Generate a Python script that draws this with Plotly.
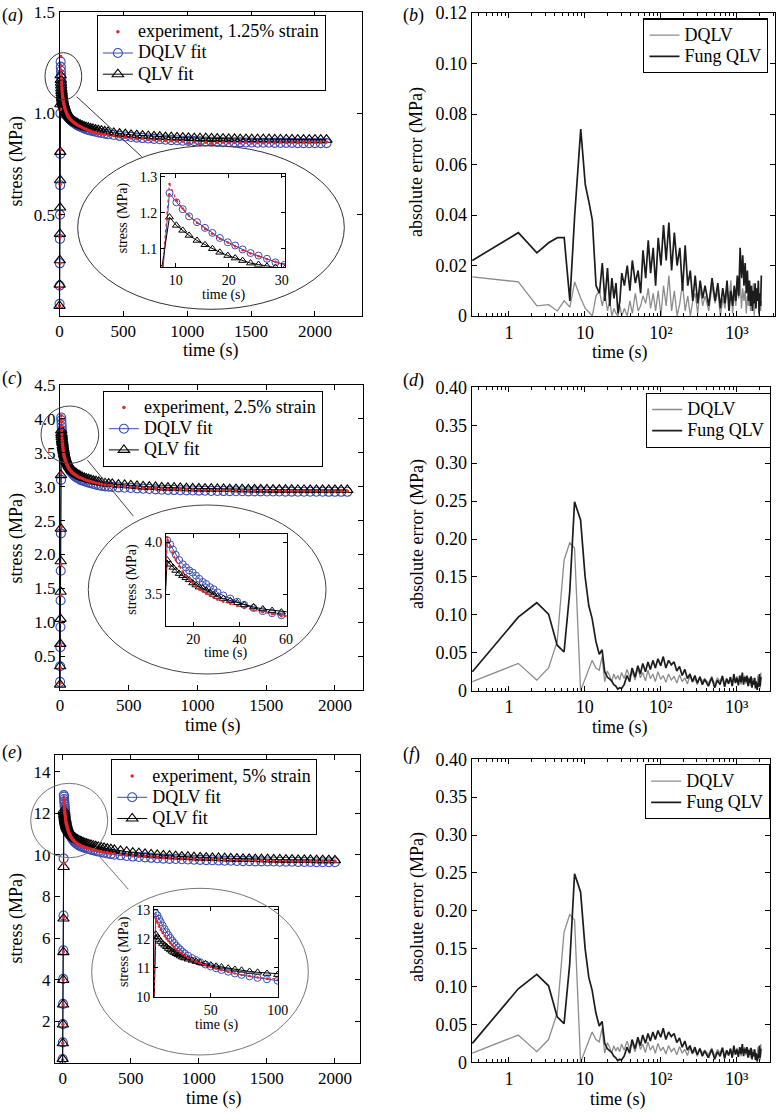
import plotly.graph_objects as go

FONT = "Liberation Serif"
W, H = 778, 1112
BLUE = "#3a4db5"
RED = "#e3262b"
GRAY = "#8c8c8c"
DARK = "#1c1c1c"

# ---------------- data ----------------
# sample times (s): ramp | 10-30 s | 30-130 s | 130-360 s | tail
T = [0.33, 1.33, 2.33, 3.33, 4.33, 5.33, 6.33, 7.33, 8.8,
     10.1, 11.3, 12.5, 14.0, 15.5, 16.9, 18.3, 19.8, 21.2, 22.6, 24.1, 25.6, 27.2, 28.8, 30.5,
     33, 36, 39, 42, 46, 50, 54, 58, 63, 68, 73, 79, 85, 92, 100, 108, 117, 127,
     138, 150, 163, 177, 192, 208, 225, 243, 262, 282, 304, 328, 354,
     380, 425, 470, 515, 560, 605, 650, 695, 740, 785, 830, 875, 920, 965, 1010, 1055,
     1100, 1145, 1190, 1235, 1280, 1325, 1370, 1415, 1460, 1505, 1550, 1595, 1640, 1685,
     1730, 1775, 1820, 1865, 1910, 1955, 2000, 2045, 2090]

# panel (a): 1.25% strain
A_EXP = [0.05, 0.14, 0.26, 0.39, 0.50, 0.65, 0.82, 1.02, 1.28,
         1.235, 1.212, 1.192, 1.172, 1.155, 1.141, 1.128, 1.117, 1.106, 1.096, 1.087, 1.079, 1.071, 1.064, 1.057,
         1.050, 1.041, 1.033, 1.026, 1.018, 1.011, 1.004, 0.998, 0.992, 0.986, 0.981, 0.976, 0.971, 0.966, 0.961, 0.957, 0.952, 0.948,
         0.943, 0.939, 0.935, 0.930, 0.925, 0.921, 0.917, 0.913, 0.908, 0.905, 0.902, 0.898, 0.895,
         0.893, 0.889, 0.884, 0.882, 0.878, 0.875, 0.877, 0.871, 0.870, 0.868, 0.866, 0.865, 0.863, 0.862, 0.852, 0.858,
         0.849, 0.857, 0.851, 0.856, 0.857, 0.855, 0.856, 0.855, 0.857, 0.854, 0.856, 0.855, 0.857, 0.855,
         0.858, 0.856, 0.857, 0.856, 0.858, 0.857, 0.859, 0.858, 0.859]
A_DQLV = [0.06, 0.15, 0.26, 0.38, 0.50, 0.645, 0.80, 1.00, 1.255,
          1.229, 1.210, 1.190, 1.174, 1.158, 1.144, 1.130, 1.118, 1.109, 1.098, 1.088, 1.081, 1.072, 1.062, 1.055,
          1.048, 1.040, 1.032, 1.025, 1.017, 1.010, 1.003, 0.997, 0.991, 0.985, 0.980, 0.975, 0.970, 0.965, 0.960, 0.955, 0.951, 0.946,
          0.942, 0.938, 0.934, 0.930, 0.926, 0.922, 0.918, 0.915, 0.912, 0.909, 0.906, 0.903, 0.900,
          0.897, 0.893, 0.889, 0.886, 0.883, 0.880, 0.878, 0.876, 0.874, 0.872, 0.870, 0.868, 0.867, 0.865, 0.864, 0.863,
          0.862, 0.861, 0.860, 0.859, 0.858, 0.858, 0.857, 0.857, 0.856, 0.856, 0.855, 0.855, 0.855, 0.854,
          0.854, 0.854, 0.854, 0.853, 0.853, 0.853, 0.853, 0.853, 0.853]
A_QLV = [0.05, 0.155, 0.275, 0.405, 0.535, 0.67, 0.81, 1.045, 1.188,
         1.165, 1.151, 1.137, 1.123, 1.111, 1.100, 1.090, 1.081, 1.074, 1.067, 1.060, 1.056, 1.051, 1.048, 1.044,
         1.040, 1.034, 1.028, 1.022, 1.016, 1.010, 1.005, 1.000, 0.995, 0.990, 0.986, 0.981, 0.977, 0.972, 0.967, 0.963, 0.959, 0.955,
         0.951, 0.947, 0.943, 0.939, 0.935, 0.932, 0.929, 0.926, 0.923, 0.920, 0.917, 0.914, 0.911,
         0.908, 0.904, 0.900, 0.897, 0.894, 0.892, 0.890, 0.888, 0.886, 0.885, 0.883, 0.882, 0.881, 0.880, 0.879, 0.878,
         0.877, 0.877, 0.876, 0.875, 0.875, 0.874, 0.874, 0.873, 0.873, 0.873, 0.872, 0.872, 0.872, 0.871,
         0.871, 0.871, 0.871, 0.870, 0.870, 0.870, 0.870, 0.870, 0.870]

# panel (c): 2.5% strain
C_EXP = [0.10, 0.33, 0.66, 1.00, 1.40, 1.85, 2.40, 3.20, 4.05,
         3.96, 3.89, 3.83, 3.77, 3.72, 3.68, 3.64, 3.61, 3.58, 3.55, 3.53, 3.51, 3.49, 3.47, 3.45,
         3.43, 3.41, 3.39, 3.37, 3.35, 3.33, 3.31, 3.29, 3.275, 3.26, 3.245, 3.23, 3.215, 3.20, 3.19, 3.18, 3.165, 3.155,
         3.14, 3.13, 3.12, 3.105, 3.095, 3.085, 3.075, 3.065, 3.055, 3.045, 3.035, 3.025, 3.02,
         3.012, 3.0, 2.998, 2.99, 2.985, 2.978, 2.975, 2.968, 2.965, 2.962, 2.958, 2.955, 2.953, 2.95, 2.948, 2.947,
         2.945, 2.944, 2.943, 2.942, 2.941, 2.94, 2.94, 2.939, 2.938, 2.938, 2.937, 2.937, 2.936, 2.936,
         2.936, 2.935, 2.935, 2.935, 2.934, 2.934, 2.934, 2.934, 2.934]
C_DQLV = [0.12, 0.35, 0.63, 0.93, 1.32, 1.76, 2.31, 3.10, 4.02,
          3.98, 3.93, 3.88, 3.83, 3.79, 3.76, 3.73, 3.71, 3.68, 3.65, 3.62, 3.60, 3.57, 3.55, 3.52,
          3.49, 3.46, 3.43, 3.40, 3.37, 3.34, 3.32, 3.30, 3.28, 3.26, 3.24, 3.22, 3.21, 3.19, 3.17, 3.16, 3.14, 3.13,
          3.12, 3.10, 3.09, 3.08, 3.07, 3.06, 3.05, 3.04, 3.03, 3.02, 3.01, 3.005, 3.00,
          2.995, 2.99, 2.985, 2.98, 2.975, 2.97, 2.965, 2.96, 2.955, 2.952, 2.95, 2.947, 2.945, 2.943, 2.941, 2.939,
          2.937, 2.936, 2.935, 2.934, 2.933, 2.932, 2.931, 2.93, 2.93, 2.929, 2.928, 2.928, 2.927, 2.927,
          2.926, 2.926, 2.925, 2.925, 2.925, 2.924, 2.924, 2.924, 2.924]
C_QLV = [0.08, 0.35, 0.68, 1.05, 1.45, 1.90, 2.38, 3.17, 3.83,
         3.79, 3.76, 3.73, 3.70, 3.68, 3.66, 3.64, 3.61, 3.59, 3.57, 3.56, 3.54, 3.52, 3.50, 3.48,
         3.46, 3.44, 3.42, 3.40, 3.38, 3.36, 3.345, 3.33, 3.31, 3.295, 3.28, 3.265, 3.25, 3.235, 3.22, 3.21, 3.195, 3.18,
         3.17, 3.155, 3.14, 3.13, 3.12, 3.11, 3.10, 3.09, 3.08, 3.07, 3.06, 3.05, 3.045,
         3.04, 3.03, 3.025, 3.02, 3.01, 3.005, 3.0, 2.995, 2.99, 2.987, 2.984, 2.981, 2.978, 2.976, 2.974, 2.972,
         2.97, 2.968, 2.966, 2.965, 2.963, 2.962, 2.961, 2.96, 2.959, 2.958, 2.957, 2.956, 2.955, 2.955,
         2.954, 2.954, 2.953, 2.953, 2.952, 2.952, 2.952, 2.951, 2.951]

# panel (e): 5% strain
E_EXP = [0.15, 0.95, 1.85, 2.80, 4.00, 5.35, 7.00, 9.60, 12.70,
         12.55, 12.42, 12.30, 12.19, 12.09, 12.00, 11.92, 11.84, 11.77, 11.70, 11.63, 11.57, 11.51, 11.46, 11.41,
         11.34, 11.27, 11.21, 11.15, 11.08, 11.02, 10.96, 10.91, 10.85, 10.80, 10.75, 10.71, 10.66, 10.62, 10.58, 10.54, 10.50, 10.47,
         10.43, 10.40, 10.37, 10.34, 10.31, 10.28, 10.25, 10.22, 10.19, 10.16, 10.13, 10.11, 10.08,
         10.05, 10.02, 9.99, 9.96, 9.94, 9.92, 9.90, 9.88, 9.86, 9.85, 9.84, 9.82, 9.81, 9.80, 9.79, 9.78,
         9.77, 9.76, 9.76, 9.75, 9.74, 9.74, 9.73, 9.73, 9.72, 9.72, 9.71, 9.71, 9.71, 9.70,
         9.70, 9.70, 9.69, 9.69, 9.69, 9.69, 9.69, 9.68, 9.68]
E_DQLV = [0.19, 0.99, 1.87, 2.84, 4.04, 5.41, 7.09, 9.83, 12.87,
          12.80, 12.68, 12.57, 12.45, 12.33, 12.22, 12.12, 12.02, 11.93, 11.85, 11.76, 11.69, 11.62, 11.55, 11.49,
          11.41, 11.33, 11.26, 11.19, 11.11, 11.04, 10.98, 10.92, 10.86, 10.80, 10.75, 10.70, 10.65, 10.60, 10.55, 10.51, 10.47, 10.43,
          10.40, 10.37, 10.34, 10.31, 10.28, 10.25, 10.22, 10.19, 10.16, 10.13, 10.10, 10.07, 10.04,
          10.01, 9.98, 9.95, 9.92, 9.90, 9.88, 9.86, 9.84, 9.82, 9.81, 9.80, 9.79, 9.78, 9.77, 9.76, 9.75,
          9.74, 9.73, 9.72, 9.72, 9.71, 9.70, 9.70, 9.69, 9.69, 9.68, 9.68, 9.67, 9.67, 9.67,
          9.66, 9.66, 9.66, 9.65, 9.65, 9.65, 9.65, 9.64, 9.64]
E_QLV = [0.19, 0.95, 1.85, 2.81, 3.99, 5.33, 6.94, 9.42, 12.15,
         12.05, 11.97, 11.90, 11.83, 11.77, 11.72, 11.66, 11.61, 11.56, 11.52, 11.48, 11.44, 11.40, 11.36, 11.33,
         11.29, 11.25, 11.21, 11.17, 11.13, 11.09, 11.05, 11.02, 10.98, 10.94, 10.91, 10.87, 10.84, 10.80, 10.76, 10.73, 10.70, 10.67,
         10.64, 10.60, 10.57, 10.54, 10.51, 10.48, 10.45, 10.42, 10.39, 10.36, 10.33, 10.30, 10.27,
         10.24, 10.19, 10.15, 10.11, 10.08, 10.05, 10.02, 10.00, 9.98, 9.96, 9.94, 9.92, 9.91, 9.89, 9.88, 9.87,
         9.86, 9.85, 9.84, 9.83, 9.82, 9.81, 9.81, 9.80, 9.79, 9.79, 9.78, 9.78, 9.77, 9.77,
         9.76, 9.76, 9.76, 9.75, 9.75, 9.75, 9.74, 9.74, 9.74]
E_NPTS = 92  # the 5% test ends at about 2000 s

# panel (b): absolute errors, 1.25% strain
B_DQLV = [0.0155, 0.0135, 0.004, 0.0045, 0.002, 0.006, 0.0035, 0.0135, 0.007,
          0.003, 0.0015, 0.0, 0.008, 0.010, 0.004, 0.009, 0.002, 0.006, 0.0, 0.003, 0.001, 0.0, 0.004, 0.0,
          0.003, 0.0, 0.006, 0.001, 0.009, 0.002, 0.004, 0.008, 0.005, 0.011, 0.003, 0.009, 0.002, 0.010, 0.0, 0.012, 0.004, 0.016,
          0.002, 0.010, 0.0, 0.005, 0.013, 0.002, 0.008, 0.0, 0.006, 0.009, 0.001, 0.011, 0.004,
          0.008, 0.002, 0.012, 0.005, 0.010, 0.0, 0.007, 0.003, 0.011, 0.006, 0.014, 0.001, 0.009, 0.004, 0.012, 0.007,
          0.015, 0.003, 0.011, 0.006, 0.010, 0.001, 0.008, 0.004, 0.012, 0.002, 0.009, 0.005, 0.013, 0.0,
          0.007, 0.003, 0.010, 0.006, 0.012, 0.0, 0.008, 0.002, 0.006]
B_FUNG = [0.022, 0.033, 0.025, 0.029, 0.031, 0.031, 0.006, 0.040, 0.074,
          0.052, 0.045, 0.038, 0.012, 0.009, 0.021, 0.006, 0.019, 0.004, 0.015, 0.007, 0.013, 0.001, 0.006, 0.017,
          0.012, 0.020, 0.010, 0.022, 0.013, 0.018, 0.009, 0.026, 0.015, 0.030, 0.017, 0.027, 0.012, 0.031, 0.020, 0.036, 0.022, 0.037,
          0.018, 0.033, 0.020, 0.027, 0.010, 0.028, 0.012, 0.018, 0.006, 0.016, 0.005, 0.014, 0.007,
          0.012, 0.004, 0.015, 0.006, 0.013, 0.003, 0.011, 0.005, 0.014, 0.002, 0.010, 0.004, 0.012, 0.006, 0.016, 0.008,
          0.027, 0.015, 0.024, 0.012, 0.021, 0.009, 0.018, 0.006, 0.014, 0.004, 0.012, 0.002, 0.010, 0.005,
          0.013, 0.003, 0.011, 0.006, 0.014, 0.001, 0.009, 0.004, 0.016]

# panel (d): absolute errors, 2.5% strain
D_DQLV = [0.012, 0.036, 0.014, 0.030, 0.065, 0.172, 0.195, 0.188, 0.0,
          0.015, 0.028, 0.040, 0.030, 0.027, 0.045, 0.012, 0.026, 0.020, 0.012, 0.022, 0.015, 0.020, 0.014, 0.024,
          0.016, 0.028, 0.018, 0.025, 0.014, 0.030, 0.017, 0.024, 0.013, 0.027, 0.016, 0.022, 0.012, 0.025, 0.015, 0.020, 0.011, 0.022,
          0.014, 0.019, 0.010, 0.021, 0.012, 0.017, 0.009, 0.020, 0.011, 0.016, 0.008, 0.019, 0.012,
          0.016, 0.010, 0.019, 0.008, 0.017, 0.012, 0.020, 0.009, 0.015, 0.011, 0.018, 0.007, 0.016, 0.012, 0.019, 0.010,
          0.017, 0.008, 0.015, 0.012, 0.020, 0.009, 0.016, 0.011, 0.018, 0.006, 0.014, 0.010, 0.017, 0.008,
          0.015, 0.004, 0.012, 0.009, 0.020, 0.006, 0.016, 0.003, 0.024]
D_FUNG = [0.025, 0.097, 0.116, 0.101, 0.060, 0.051, 0.130, 0.249, 0.225,
          0.150, 0.112, 0.095, 0.065, 0.048, 0.054, 0.025, 0.018, 0.016, 0.013, 0.008, 0.006, 0.002, 0.004, 0.003,
          0.008, 0.020, 0.012, 0.030, 0.018, 0.033, 0.022, 0.036, 0.025, 0.038, 0.028, 0.040, 0.030, 0.042, 0.033, 0.045, 0.030, 0.040,
          0.034, 0.038, 0.026, 0.032, 0.020, 0.028, 0.016, 0.022, 0.012, 0.020, 0.010, 0.018, 0.008,
          0.015, 0.006, 0.017, 0.004, 0.014, 0.008, 0.019, 0.005, 0.016, 0.009, 0.018, 0.006, 0.022, 0.010, 0.017, 0.007,
          0.020, 0.011, 0.024, 0.008, 0.018, 0.012, 0.020, 0.006, 0.016, 0.010, 0.019, 0.004, 0.013, 0.008,
          0.017, 0.003, 0.012, 0.001, 0.010, 0.005, 0.022, 0.006, 0.018]

# panel (f) shows the same error curves as panel (d) in the source figure
F_DQLV = D_DQLV
F_FUNG = D_FUNG

# tick labels
STRESS_X_TICKS = [0, 500, 1000, 1500, 2000]
LOG_TICKVALS = [1, 10, 100, 1000]
LOG_TICKTEXT = ["1", "10", "10²", "10³"]
ERR_B_TICKS = [0, 0.02, 0.04, 0.06, 0.08, 0.10, 0.12]
ERR_B_TEXT = ["0", "0.02", "0.04", "0.06", "0.08", "0.10", "0.12"]
ERR_D_TICKS = [0, 0.05, 0.10, 0.15, 0.20, 0.25, 0.30, 0.35, 0.40]
ERR_D_TEXT = ["0", "0.05", "0.10", "0.15", "0.20", "0.25", "0.30", "0.35", "0.40"]

# ---------------- layout helpers ----------------
def px(x):
    return x / W


def py(y):
    return 1 - y / H


def xdom(x0, x1):
    return [px(x0), px(x1)]


def ydom(top, bottom):
    return [py(bottom), py(top)]


def tick_font(size):
    return dict(family=FONT, size=size, color="black")


def base_axis(size=17, ticklen=5):
    return dict(showline=True, linecolor="black", linewidth=1, mirror="ticks",
                ticks="inside", ticklen=ticklen, tickwidth=1, tickcolor="black",
                showgrid=False, zeroline=False, tickfont=tick_font(size),
                automargin=False, fixedrange=True)


def leg_label(s):
    # legend row height follows the (small) legend font size; label drawn larger
    return f'<span style="font-size:18px">{s}</span>'


MINOR_LOG = [v * 10 ** e for e in (-1, 0, 1, 2, 3) for v in range(2, 10)]

fig = go.Figure()


def ax_name(n, letter):
    return letter if n == 1 else f"{letter}{n}"


def stress_panel(n, inset_n, exp, dq, ql, leg, exp_label, npts):
    x = T[:npts]
    xa, ya = ax_name(n, "x"), ax_name(n, "y")
    fig.add_trace(go.Scatter(x=x, y=dq[:npts], mode="lines+markers", name=leg_label("DQLV fit"),
                             line=dict(color=BLUE, width=1),
                             marker=dict(symbol="circle-open", size=9, color=BLUE, line=dict(width=1.1)),
                             xaxis=xa, yaxis=ya, legend=leg, legendrank=2, cliponaxis=False))
    fig.add_trace(go.Scatter(x=x, y=ql[:npts], mode="lines+markers", name=leg_label("QLV fit"),
                             line=dict(color="black", width=1),
                             marker=dict(symbol="triangle-up-open", size=10, color="black", line=dict(width=1.1)),
                             xaxis=xa, yaxis=ya, legend=leg, legendrank=3, cliponaxis=False))
    fig.add_trace(go.Scatter(x=x, y=exp[:npts], mode="markers", name=leg_label(exp_label),
                             marker=dict(symbol="circle", size=3.5, color=RED),
                             xaxis=xa, yaxis=ya, legend=leg, legendrank=1, cliponaxis=False))
    xi, yi = ax_name(inset_n, "x"), ax_name(inset_n, "y")
    fig.add_trace(go.Scatter(x=x, y=dq[:npts], mode="lines+markers", showlegend=False,
                             line=dict(color=BLUE, width=1),
                             marker=dict(symbol="circle-open", size=7, color=BLUE, line=dict(width=1)),
                             xaxis=xi, yaxis=yi))
    fig.add_trace(go.Scatter(x=x, y=ql[:npts], mode="lines+markers", showlegend=False,
                             line=dict(color="black", width=1),
                             marker=dict(symbol="triangle-up-open", size=7, color="black", line=dict(width=1)),
                             xaxis=xi, yaxis=yi))
    fig.add_trace(go.Scatter(x=x, y=exp[:npts], mode="lines+markers", showlegend=False,
                             line=dict(color=RED, width=1.2, dash="dot"),
                             marker=dict(symbol="circle", size=2.5, color=RED),
                             xaxis=xi, yaxis=yi))


def error_panel(n, dq, fung, leg):
    xa, ya = ax_name(n, "x"), ax_name(n, "y")
    fig.add_trace(go.Scatter(x=T, y=dq, mode="lines", name=leg_label("DQLV"),
                             line=dict(color=GRAY, width=1.3),
                             xaxis=xa, yaxis=ya, legend=leg, legendrank=1))
    fig.add_trace(go.Scatter(x=T, y=fung, mode="lines", name=leg_label("Fung QLV"),
                             line=dict(color=DARK, width=1.7),
                             xaxis=xa, yaxis=ya, legend=leg, legendrank=2))


stress_panel(1, 7, A_EXP, A_DQLV, A_QLV, "legend", "experiment, 1.25% strain", len(T))
stress_panel(3, 8, C_EXP, C_DQLV, C_QLV, "legend3", "experiment, 2.5% strain", len(T))
stress_panel(5, 9, E_EXP, E_DQLV, E_QLV, "legend5", "experiment, 5% strain", E_NPTS)
error_panel(2, B_DQLV, B_FUNG, "legend2")
error_panel(4, D_DQLV, D_FUNG, "legend4")
error_panel(6, F_DQLV, F_FUNG, "legend6")

layout = dict(width=W, height=H, margin=dict(l=0, r=0, t=0, b=0),
              paper_bgcolor="white", plot_bgcolor="white", template="none",
              font=dict(family=FONT, size=17, color="black"), showlegend=True)

# main stress panels
main_specs = {1: ((59.5, 362), (12, 316), [0, 2368], [0, 1.5], [0.5, 1.0, 1.5], ".1f"),
              3: ((60, 363), (385, 690), [0, 2204], [0, 4.5], [0.5, 1.0, 1.5, 2.0, 2.5, 3.0, 3.5, 4.0, 4.5], ".1f"),
              5: ((55, 360), (755, 1063), [-56, 2184], [0, 14.8], [2, 4, 6, 8, 10, 12, 14], "d")}
for n, (xd, yd, xr, yr, yt, fmt) in main_specs.items():
    xa = base_axis(17)
    xa.update(domain=xdom(*xd), range=xr, anchor=ax_name(n, "y"), tickmode="array", tickvals=STRESS_X_TICKS)
    ya = base_axis(17)
    ya.update(domain=ydom(*yd), range=yr, anchor=ax_name(n, "x"), tickmode="array", tickvals=yt, tickformat=fmt)
    layout["xaxis" if n == 1 else f"xaxis{n}"] = xa
    layout["yaxis" if n == 1 else f"yaxis{n}"] = ya

# error panels (log time)
err_specs = {2: ((471.7, 775), (13, 316), [-0.49, 3.5], [0, 0.12], ERR_B_TICKS, ERR_B_TEXT),
             4: ((471.7, 770), (387.3, 690.7), [-0.49, 3.44], [0, 0.40], ERR_D_TICKS, ERR_D_TEXT),
             6: ((471.7, 770), (759.3, 1062.3), [-0.49, 3.44], [0, 0.40], ERR_D_TICKS, ERR_D_TEXT)}
for n, (xd, yd, xr, yr, yt, ytt) in err_specs.items():
    xa = base_axis(18)
    xa.update(domain=xdom(*xd), type="log", range=xr, anchor=f"y{n}", tickmode="array",
              tickvals=LOG_TICKVALS, ticktext=LOG_TICKTEXT,
              minor=dict(tickmode="array", tickvals=MINOR_LOG, ticks="inside", ticklen=3,
                         tickcolor="black", showgrid=False))
    ya = base_axis(18)
    ya.update(domain=ydom(*yd), range=yr, anchor=f"x{n}", tickmode="array", tickvals=yt, ticktext=ytt)
    layout[f"xaxis{n}"] = xa
    layout[f"yaxis{n}"] = ya

# insets
inset_specs = {7: ((161, 285), (174.3, 266.7), [7.2, 30.6], [1.05, 1.307], [10, 20, 30], [1.1, 1.2, 1.3], ".1f"),
               8: ((166, 286.7), (534, 625.7), [8.3, 60.3], [3.2, 4.08], [20, 40, 60], [3.5, 4.0], ".1f"),
               9: ((154, 278.3), (906.7, 996.7), [7.5, 100.5], [10, 13.1], [50, 100], [10, 11, 12, 13], "d")}
for n, (xd, yd, xr, yr, xt, yt, fmt) in inset_specs.items():
    xa = base_axis(14, 4)
    xa.update(domain=xdom(*xd), range=xr, anchor=f"y{n}", tickmode="array", tickvals=xt)
    ya = base_axis(14, 4)
    ya.update(domain=ydom(*yd), range=yr, anchor=f"x{n}", tickmode="array", tickvals=yt, tickformat=fmt)
    layout[f"xaxis{n}"] = xa
    layout[f"yaxis{n}"] = ya


def legend_box(x, y, xanchor):
    return dict(x=px(x), y=py(y), xanchor=xanchor, yanchor="top", bgcolor="white",
                bordercolor="black", borderwidth=1.2, font=dict(family=FONT, size=14, color="black"),
                tracegroupgap=0, itemwidth=30, traceorder="normal")


layout["legend"] = legend_box(96.7, 15, "left")
layout["legend3"] = legend_box(102.7, 390.7, "left")
layout["legend5"] = legend_box(111, 759.3, "left")
layout["legend2"] = legend_box(643.3, 18.3, "left")
layout["legend4"] = legend_box(646, 392.7, "left")
layout["legend6"] = legend_box(645, 764.3, "left")

# annotations: panel letters and axis titles
ann = []


def text(x, y, s, size=18, angle=0, xanchor="center"):
    ann.append(dict(x=px(x), y=py(y), xref="paper", yref="paper", text=s, showarrow=False,
                    textangle=angle, xanchor=xanchor, yanchor="middle",
                    font=dict(family=FONT, size=size, color="black")))


for lbl, x, y in [("a", 0, 15), ("b", 401, 15), ("c", 0, 378), ("d", 401, 380), ("e", 0, 752), ("f", 401, 754)]:
    text(x, y, f"(<i>{lbl}</i>)", 18, 0, "left")

text(210.7, 350, "time (s)")
text(213, 725, "time (s)")
text(213.8, 1098, "time (s)")
text(620, 352, "time (s)")
text(620, 727, "time (s)")
text(618, 1099, "time (s)")
text(15.5, 161, "stress (MPa)", 18, -90)
text(15.5, 538, "stress (MPa)", 18, -90)
text(15.5, 918, "stress (MPa)", 18, -90)
text(417, 162, "absolute error (MPa)", 18, -90)
text(417, 534, "absolute error (MPa)", 18, -90)
text(417, 907, "absolute error (MPa)", 18, -90)
# inset titles
text(223.3, 295, "time (s)", 14)
text(225.8, 653, "time (s)", 14)
text(217, 1025, "time (s)", 14)
text(123.3, 218, "stress (MPa)", 14, -90)
text(131.7, 579, "stress (MPa)", 14, -90)
text(123.3, 951.7, "stress (MPa)", 14, -90)
layout["annotations"] = ann

# magnifier ellipses and connector lines
shapes = []


def ellipse(x0, x1, y0, y1, color):
    shapes.append(dict(type="circle", xref="paper", yref="paper", x0=px(x0), x1=px(x1),
                       y0=py(y1), y1=py(y0), line=dict(color=color, width=1)))


def seg(x0, y0, x1, y1, color):
    shapes.append(dict(type="line", xref="paper", yref="paper", x0=px(x0), y0=py(y0),
                       x1=px(x1), y1=py(y1), line=dict(color=color, width=1)))


ellipse(77.7, 344.3, 145.7, 309.3, "#333333")
ellipse(45, 81.7, 52.7, 100, "#333333")
seg(76.7, 96.7, 141.7, 156.7, "#333333")
ellipse(88.3, 326, 505, 674, "#444444")
ellipse(41, 98.7, 406, 463.3, "#444444")
seg(87.3, 460, 133.3, 516, "#444444")
ellipse(91.7, 308.3, 888.3, 1055, "#777777")
ellipse(30.7, 107.7, 783.3, 857.7, "#777777")
seg(96.7, 853.3, 128.3, 889.3, "#777777")
layout["shapes"] = shapes

fig.update_layout(**layout)
fig.write_html("out.html", config={"displayModeBar": False, "staticPlot": True},
               post_script="document.body.style.margin='0px';document.body.style.overflow='hidden';")
